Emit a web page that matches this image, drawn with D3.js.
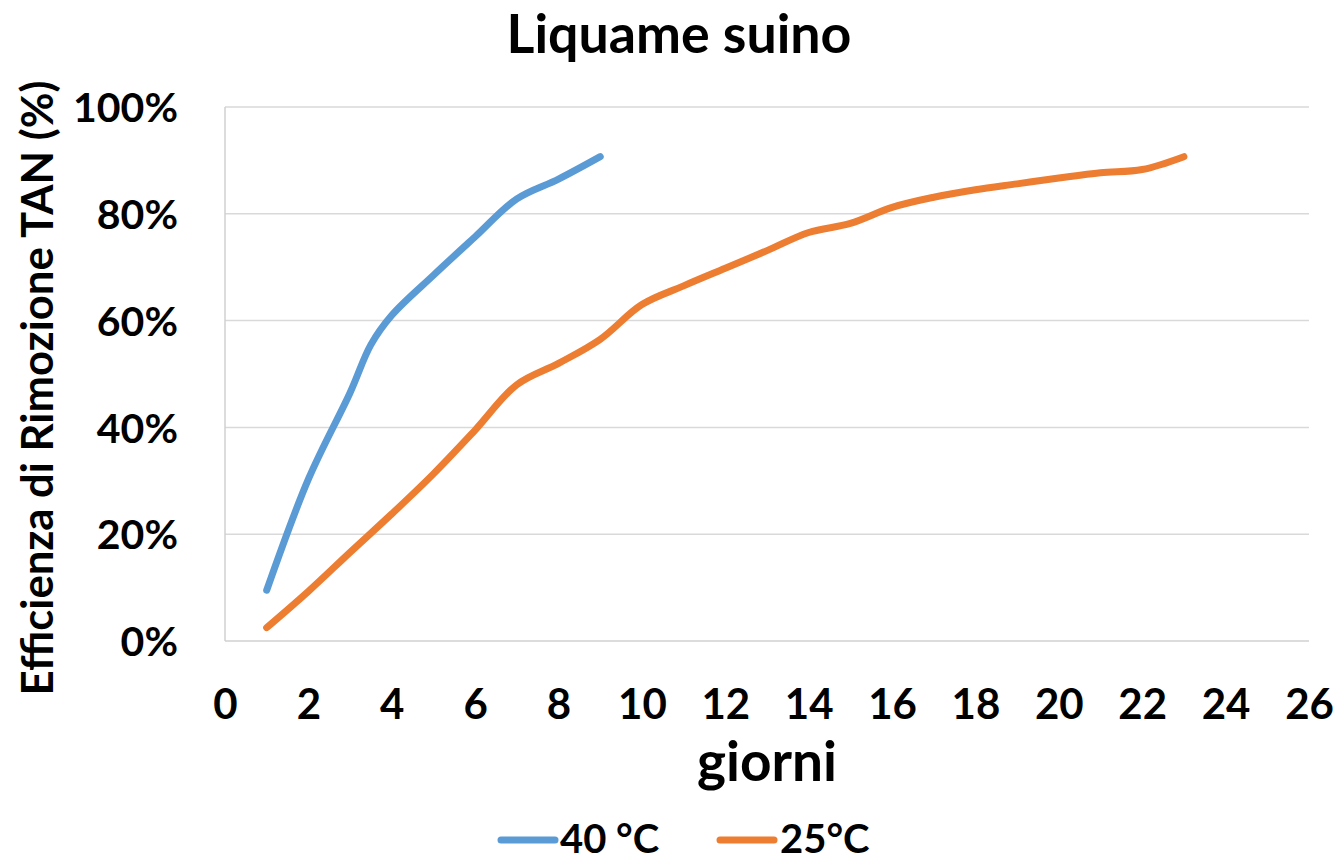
<!DOCTYPE html>
<html>
<head>
<meta charset="utf-8">
<script src="https://cdn.jsdelivr.net/npm/d3@7"></script>
<style>
  html, body { margin: 0; padding: 0; background: #fff; }
  svg { display: block; }
  text { font-family: Lato, "Open Sans", sans-serif; font-weight: bold; fill: #000; }
</style>
</head>
<body>
<svg id="chart" width="1339" height="863"></svg>
<script>
// ---- data ----
const chartTitle = "Liquame suino";
const xAxisTitle = "giorni";
const yAxisTitle = "Efficienza di Rimozione TAN (%)";
const xTicks = [0, 2, 4, 6, 8, 10, 12, 14, 16, 18, 20, 22, 24, 26];
const yTicks = [0, 0.2, 0.4, 0.6, 0.8, 1.0];
const seriesNames = ["40 °C", "25°C"];
const days40 = [1, 2, 3, 3.5, 4, 5, 6, 7, 8, 9];
const eff40 = [0.095, 0.303, 0.465, 0.555, 0.61, 0.685, 0.757, 0.828, 0.865, 0.907];
const days25 = [1, 2, 3, 4, 5, 6, 7, 8, 9, 10, 11, 12, 13, 14, 15, 16, 17, 18, 19, 20, 21, 22, 23];
const eff25 = [0.025, 0.093, 0.166, 0.238, 0.313, 0.395, 0.48, 0.52, 0.565, 0.63, 0.665, 0.698, 0.731, 0.765, 0.782, 0.812, 0.831, 0.845, 0.856, 0.867, 0.877, 0.883, 0.907];
const colors = ["#5B9BD5", "#ED7D31"];

// ---- layout ----
const svg = d3.select("#chart");
const x = d3.scaleLinear().domain([0, 26]).range([225, 1309]);
const y = d3.scaleLinear().domain([0, 1]).range([641, 107]);

// gridlines
svg.append("g").selectAll("line").data(yTicks.filter(d => d > 0)).join("line")
  .attr("x1", x(0)).attr("x2", x(26))
  .attr("y1", d => y(d)).attr("y2", d => y(d))
  .attr("stroke", "#d9d9d9").attr("stroke-width", 1.5);

// axes lines
svg.append("line").attr("x1", x(0)).attr("x2", x(0)).attr("y1", y(1)).attr("y2", y(0))
  .attr("stroke", "#d0d0d0").attr("stroke-width", 1.5);
svg.append("line").attr("x1", x(0)).attr("x2", x(26)).attr("y1", y(0)).attr("y2", y(0))
  .attr("stroke", "#d0d0d0").attr("stroke-width", 1.5);

// y tick labels
const yAxis = d3.axisLeft(y).tickValues(yTicks).tickFormat(d3.format(".0%")).tickSize(0).tickPadding(0);
const gy = svg.append("g").attr("transform", "translate(178,0)").call(yAxis);
gy.select(".domain").remove();
gy.selectAll("text").attr("font-size", 41).attr("font-family", null).attr("fill", "#000").attr("dy", "0.36em");

// x tick labels
const xAxis = d3.axisBottom(x).tickValues(xTicks).tickFormat(d3.format("d")).tickSize(0).tickPadding(0);
const gx = svg.append("g").attr("transform", "translate(0,719)").call(xAxis);
gx.select(".domain").remove();
gx.selectAll("text").attr("font-size", 42).attr("font-family", null).attr("fill", "#000").attr("dy", 0);

// lines
const line = d3.line().x(d => x(d[0])).y(d => y(d[1])).curve(d3.curveCatmullRom.alpha(0.5));
const series = [d3.zip(days40, eff40), d3.zip(days25, eff25)];
svg.append("g").selectAll("path").data(series).join("path")
  .attr("d", line)
  .attr("fill", "none")
  .attr("stroke", (d, i) => colors[i])
  .attr("stroke-width", 7)
  .attr("stroke-linecap", "round")
  .attr("stroke-linejoin", "round");

function fit(sel, target) {
  const w = sel.node().getComputedTextLength();
  const fs = parseFloat(sel.attr("font-size"));
  sel.attr("font-size", fs * target / w);
}

// title
const t = svg.append("text").attr("x", 679).attr("y", 53).attr("text-anchor", "middle")
  .attr("font-size", 54).text(chartTitle);
fit(t, 345);

// x axis title
const xt = svg.append("text").attr("x", 767).attr("y", 781).attr("text-anchor", "middle")
  .attr("font-size", 42).text(xAxisTitle);
fit(xt, 140);

// y axis title
const yt = svg.append("text").attr("transform", "translate(53,388) rotate(-90)").attr("text-anchor", "middle")
  .attr("font-size", 42).text(yAxisTitle);
fit(yt, 615);

// legend
const legendItems = [
  { x1: 501, x2: 555, tx: 560 },
  { x1: 720, x2: 774, tx: 780 }
];
const lg = svg.append("g");
legendItems.forEach((it, i) => {
  lg.append("line").attr("x1", it.x1).attr("x2", it.x2).attr("y1", 840).attr("y2", 840)
    .attr("stroke", colors[i]).attr("stroke-width", 7).attr("stroke-linecap", "round");
  lg.append("text").attr("x", it.tx).attr("y", 853).attr("font-size", 40).text(seriesNames[i]);
});
</script>
</body>
</html>
